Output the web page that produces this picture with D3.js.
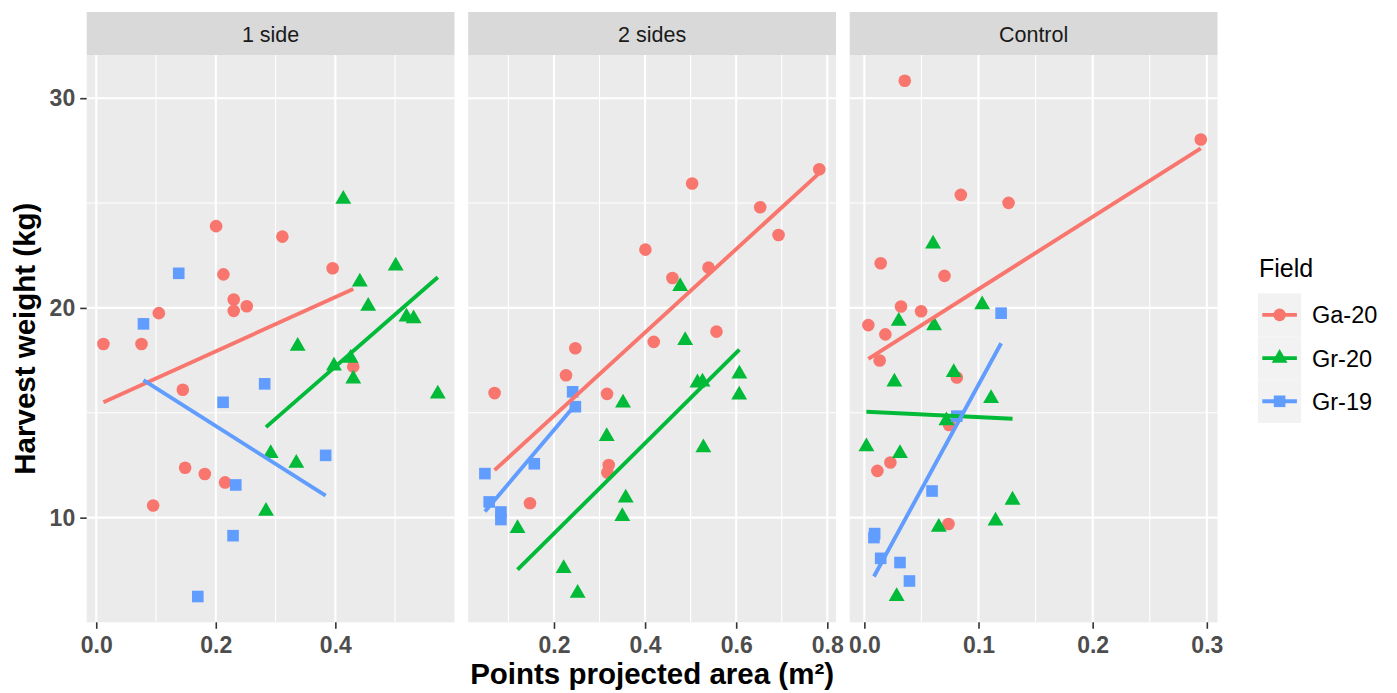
<!DOCTYPE html>
<html><head><meta charset="utf-8">
<script src="https://cdn.jsdelivr.net/npm/d3@7"></script>
<style>body{margin:0;background:#fff}</style></head>
<body>
<svg id="chart" width="1397" height="693"></svg>
<script>
// ---------- data ----------
const panels = ["1 side", "2 sides", "Control"];
const fields = ["Ga-20", "Gr-20", "Gr-19"];
const fieldColors = ["#F8766D", "#00BA38", "#619CFF"];

const oneSideGa20 = [[0.012,18.28],[0.0757,18.28],[0.1047,19.75],[0.2005,23.9],[0.2128,21.6],[0.230,20.4],[0.230,19.86],[0.2518,20.08],[0.3114,23.4],[0.3955,21.89],[0.430,17.2],[0.1448,16.1],[0.1487,12.38],[0.1816,12.08],[0.2155,11.68],[0.0952,10.58]];
const oneSideGr20 = [[0.4133,25.18],[0.501,22.0],[0.441,21.24],[0.455,20.08],[0.519,19.57],[0.531,19.49],[0.337,18.18],[0.3977,17.23],[0.4255,17.61],[0.430,16.62],[0.5714,15.9],[0.2919,13.06],[0.3347,12.6],[0.284,10.31]];
const oneSideGr19 = [[0.138,21.65],[0.079,19.24],[0.2818,16.38],[0.2122,15.5],[0.3838,12.97],[0.2334,11.56],[0.2289,9.14],[0.1699,6.24]];

const twoSidesGa20 = [[0.7824,26.61],[0.5033,25.93],[0.6527,24.8],[0.693,23.48],[0.4007,22.78],[0.5392,21.92],[0.46,21.43],[0.5567,18.87],[0.419,18.38],[0.2469,18.08],[0.2264,16.79],[0.0696,15.94],[0.3165,15.9],[0.3202,12.51],[0.3172,12.15],[0.1473,10.69]];
const twoSidesGr20 = [[0.477,21.03],[0.488,18.45],[0.515,16.43],[0.526,16.47],[0.607,16.85],[0.6066,15.85],[0.3516,15.47],[0.3158,13.87],[0.528,13.34],[0.3575,10.94],[0.350,10.06],[0.120,9.49],[0.2213,7.58],[0.252,6.4]];
const twoSidesGr19 = [[0.241,16.0],[0.2469,15.29],[0.1568,12.57],[0.0484,12.1],[0.0578,10.75],[0.0835,10.27],[0.0835,9.91]];

const controlGa20 = [[0.0354,30.83],[0.2947,28.03],[0.0845,25.39],[0.1263,25.01],[0.0143,22.13],[0.0702,21.53],[0.0321,20.07],[0.0497,19.84],[0.0035,19.18],[0.0184,18.74],[0.0134,17.49],[0.081,16.68],[0.0742,14.42],[0.0228,12.63],[0.0114,12.23],[0.0737,9.70]];
const controlGr20 = [[0.0602,23.05],[0.1032,20.16],[0.0301,19.37],[0.0611,19.16],[0.0783,16.93],[0.0263,16.47],[0.111,15.69],[0.0719,14.63],[0.0018,13.39],[0.0312,13.06],[0.1298,10.84],[0.1149,9.84],[0.0652,9.55],[0.0283,6.24]];
const controlGr19 = [[0.1198,19.75],[0.081,14.84],[0.0593,11.27],[0.009,9.24],[0.0084,9.05],[0.0143,8.06],[0.0312,7.86],[0.0395,6.98]];

const xTicksOneSide = [0, 0.2, 0.4];
const xTicksTwoSides = [0.2, 0.4, 0.6, 0.8];
const xTicksControl = [0, 0.1, 0.2, 0.3];
const yTicks = [10, 20, 30];

const xTitle = "Points projected area (m²)";
const yTitle = "Harvest weight (kg)";
const legendTitle = "Field";

// ---------- assemble ----------
const panelData = [
  [oneSideGa20, oneSideGr20, oneSideGr19],
  [twoSidesGa20, twoSidesGr20, twoSidesGr19],
  [controlGa20, controlGr20, controlGr19]
];
const panelTicks = [xTicksOneSide, xTicksTwoSides, xTicksControl];

// ---------- layout ----------
const svg = d3.select("#chart");
const FONT = "'Liberation Sans', Arial, sans-serif";
const panelLeft = 86.7, panelW = 367.8, panelGap = 13.7;
const panelTop = 55, panelBottom = 622.3;
const stripTop = 12;

function expand(ext, m = 0.05) {
  const r = ext[1] - ext[0];
  return [ext[0] - r * m, ext[1] + r * m];
}
const allY = panelData.flat(2).map(d => d[1]);
const y = d3.scaleLinear().domain(expand(d3.extent(allY))).range([panelBottom, panelTop]);

const yMinor = [];
for (let i = 0; i < yTicks.length - 1; i++) yMinor.push((yTicks[i] + yTicks[i + 1]) / 2);

function lm(pts) {
  const mx = d3.mean(pts, d => d[0]), my = d3.mean(pts, d => d[1]);
  let sxy = 0, sxx = 0;
  pts.forEach(d => { sxy += (d[0] - mx) * (d[1] - my); sxx += (d[0] - mx) ** 2; });
  const b = sxy / sxx, a = my - b * mx;
  const ex = d3.extent(pts, d => d[0]);
  return ex.map(xv => [xv, a + b * xv]);
}

function drawShape(g, kind, cx, cy, color) {
  if (kind === 0) {
    g.append("circle").attr("cx", cx).attr("cy", cy).attr("r", 6.3).attr("fill", color);
  } else if (kind === 1) {
    const R = 5.9;
    const pts = [[cx, cy - 1.555 * R], [cx + 1.347 * R, cy + 0.778 * R], [cx - 1.347 * R, cy + 0.778 * R]];
    g.append("polygon").attr("points", pts.map(p => p.join(",")).join(" ")).attr("fill", color);
  } else {
    const s = 11.6;
    g.append("rect").attr("x", cx - s / 2).attr("y", cy - s / 2).attr("width", s).attr("height", s).attr("fill", color);
  }
}

panels.forEach((name, pi) => {
  const x0 = panelLeft + pi * (panelW + panelGap);
  const data = panelData[pi];
  const allX = data.flat().map(d => d[0]);
  const x = d3.scaleLinear().domain(expand(d3.extent(allX))).range([x0, x0 + panelW]);
  const ticks = panelTicks[pi];
  const step = ticks[1] - ticks[0];
  const minor = [];
  for (let v = ticks[0] - step / 2; v <= x.domain()[1]; v += step) {
    if (v >= x.domain()[0]) minor.push(v);
  }

  const g = svg.append("g");
  // strip
  g.append("rect").attr("x", x0).attr("y", stripTop).attr("width", panelW).attr("height", panelTop - stripTop).attr("fill", "#D9D9D9");
  g.append("text").attr("x", x0 + panelW / 2).attr("y", 41.5).attr("text-anchor", "middle")
    .attr("font-family", FONT).attr("font-size", 21.5).attr("fill", "#1A1A1A").text(name);
  // panel bg
  g.append("rect").attr("x", x0).attr("y", panelTop).attr("width", panelW).attr("height", panelBottom - panelTop).attr("fill", "#EBEBEB");
  // minor grid
  minor.forEach(v => g.append("line").attr("x1", x(v)).attr("x2", x(v)).attr("y1", panelTop).attr("y2", panelBottom).attr("stroke", "#fff").attr("stroke-width", 1.1));
  yMinor.forEach(v => g.append("line").attr("y1", y(v)).attr("y2", y(v)).attr("x1", x0).attr("x2", x0 + panelW).attr("stroke", "#fff").attr("stroke-width", 1.1));
  // major grid
  ticks.forEach(v => g.append("line").attr("x1", x(v)).attr("x2", x(v)).attr("y1", panelTop).attr("y2", panelBottom).attr("stroke", "#fff").attr("stroke-width", 2.1));
  yTicks.forEach(v => g.append("line").attr("y1", y(v)).attr("y2", y(v)).attr("x1", x0).attr("x2", x0 + panelW).attr("stroke", "#fff").attr("stroke-width", 2.1));

  // x axis
  const xa = g.append("g").attr("transform", `translate(0,${panelBottom})`)
    .call(d3.axisBottom(x).tickValues(ticks).tickSize(6.5).tickPadding(8).tickFormat(d3.format(".1f")));
  xa.select(".domain").remove();
  xa.selectAll(".tick line").attr("stroke", "#333333").attr("stroke-width", 1.6);
  xa.selectAll(".tick text").attr("font-family", FONT).attr("font-size", 23).attr("font-weight", "bold").attr("fill", "#4D4D4D");

  // points
  data.forEach((pts, fi) => {
    pts.forEach(d => drawShape(g, fi, x(d[0]), y(d[1]), fieldColors[fi]));
  });
  // regression lines
  data.forEach((pts, fi) => {
    const seg = lm(pts);
    g.append("path").attr("d", d3.line().x(d => x(d[0])).y(d => y(d[1]))(seg))
      .attr("stroke", fieldColors[fi]).attr("stroke-width", 3.9).attr("fill", "none");
  });
});

// y axis
const ya = svg.append("g").attr("transform", `translate(${panelLeft},0)`)
  .call(d3.axisLeft(y).tickValues(yTicks).tickSize(6.5).tickPadding(5).tickFormat(d3.format("d")));
ya.select(".domain").remove();
ya.selectAll(".tick line").attr("stroke", "#333333").attr("stroke-width", 1.6);
ya.selectAll(".tick text").attr("font-family", FONT).attr("font-size", 23).attr("font-weight", "bold").attr("fill", "#4D4D4D");

// axis titles
const plotMidX = panelLeft + (3 * panelW + 2 * panelGap) / 2;
svg.append("text").attr("x", plotMidX).attr("y", 684).attr("text-anchor", "middle")
  .attr("font-family", FONT).attr("font-size", 29.5).attr("font-weight", "bold").attr("fill", "#000").text(xTitle);
svg.append("text").attr("transform", `translate(35,${(panelTop + panelBottom) / 2}) rotate(-90)`).attr("text-anchor", "middle")
  .attr("font-family", FONT).attr("font-size", 29.5).attr("font-weight", "bold").attr("fill", "#000").text(yTitle);

// legend
const lg = svg.append("g");
lg.append("text").attr("x", 1259).attr("y", 277).attr("font-family", FONT).attr("font-size", 25).attr("fill", "#000").text(legendTitle);
const keyX = 1258, keyY = 293.3, keyS = 43.2;
fields.forEach((f, i) => {
  const cy = keyY + i * keyS + keyS / 2;
  lg.append("rect").attr("x", keyX).attr("y", keyY + i * keyS).attr("width", keyS).attr("height", keyS).attr("fill", "#F2F2F2");
  lg.append("line").attr("x1", keyX + 4.3).attr("x2", keyX + keyS - 4.3).attr("y1", cy).attr("y2", cy)
    .attr("stroke", fieldColors[i]).attr("stroke-width", 3.9);
  drawShape(lg, i, keyX + keyS / 2, cy, fieldColors[i]);
  lg.append("text").attr("x", 1312).attr("y", cy + 8.5).attr("font-family", FONT).attr("font-size", 23.5).attr("fill", "#000").text(f);
});
</script>
</body></html>
